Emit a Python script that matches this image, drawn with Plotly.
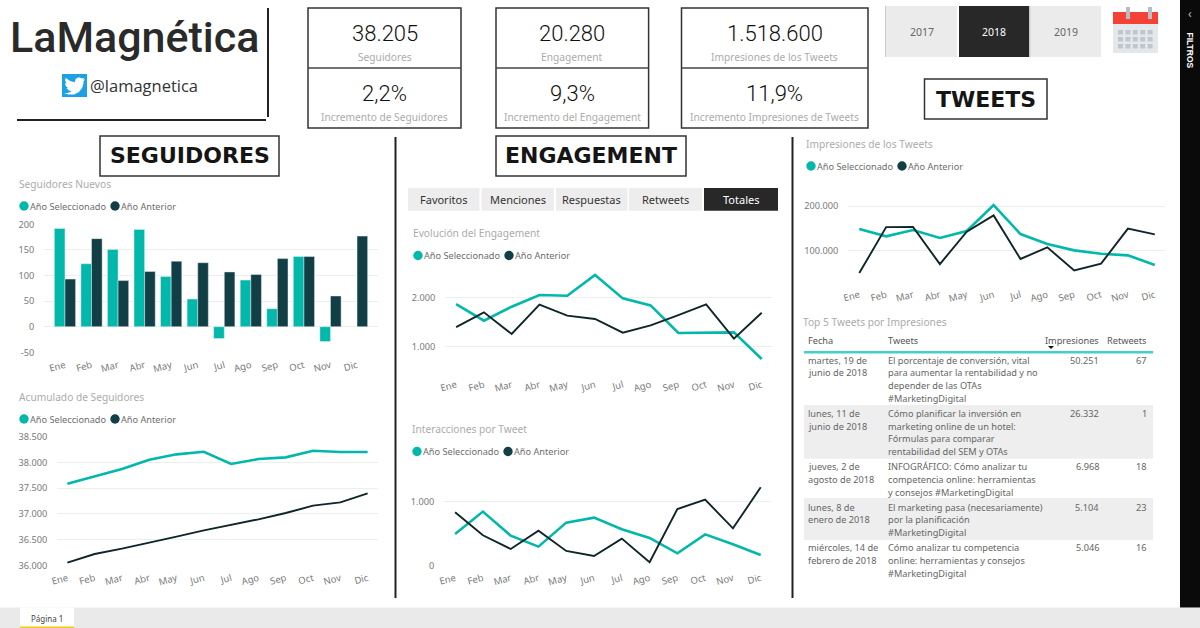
import plotly.graph_objects as go

W, H = 1200, 628
FONT = "Noto Sans"
TEAL = "#01B8AA"
DARK = "#123E45"
LINE_DARK = "#0F2529"
GRID = "#EEEEEE"

months = ["Ene", "Feb", "Mar", "Abr", "May", "Jun", "Jul", "Ago", "Sep", "Oct", "Nov", "Dic"]

nuevos_sel = [192, 123, 151, 190, 98, 54, -23, 91, 35, 137, -29, None]
nuevos_ant = [93, 172, 90, 108, 128, 125, 107, 102, 133, 137, 60, 177]
nuevos_ticks = [-50, 0, 50, 100, 150, 200]
nuevos_ticktext = ["-50", "0", "50", "100", "150", "200"]
acum_sel = [37587, 37723, 37872, 38053, 38157, 38208, 37969, 38066, 38098, 38228, 38202, 38202]
acum_ant = [36052, 36220, 36324, 36434, 36557, 36680, 36784, 36894, 37017, 37159, 37224, 37399]
evol_sel = [1870, 1530, 1816, 2054, 2040, 2463, 1986, 1843, 1279, 1293, 1293, 748]
evol_ant = [1401, 1701, 1259, 1857, 1633, 1565, 1286, 1435, 1646, 1864, 1163, 1694]
inter_sel = [490, 839, 464, 292, 667, 745, 563, 427, 188, 484, 328, 161]
inter_ant = [828, 469, 255, 542, 224, 146, 417, 47, 880, 1026, 578, 1219]
impr_sel = [148500, 132100, 146300, 128400, 144000, 202000, 137300, 114900, 100700, 93300, 89600, 68000]
impr_ant = [49900, 152800, 153000, 70000, 142500, 179000, 81500, 107500, 56000, 71000, 149500, 136600]

kpi_values = ["38.205", "20.280", "1.518.600"]
kpi_labels = ["Seguidores", "Engagement", "Impresiones de los Tweets"]
inc_values = ["2,2%", "9,3%", "11,9%"]
inc_labels = ["Incremento de Seguidores", "Incremento del Engagement", "Incremento Impresiones de Tweets"]
years = ["2017", "2018", "2019"]
tabs = ["Favoritos", "Menciones", "Respuestas", "Retweets", "Totales"]

table_headers = ["Fecha", "Tweets", "Impresiones", "Retweets"]
table_fechas = ["martes, 19 de<br>junio de 2018", "lunes, 11 de<br>junio de 2018", "jueves, 2 de<br>agosto de 2018",
                "lunes, 8 de<br>enero de 2018", "miércoles, 14 de<br>febrero de 2018"]
table_tweets = [
    "El porcentaje de conversión, vital<br>para aumentar la rentabilidad y no<br>depender de las OTAs<br>#MarketingDigital",
    "Cómo planificar la inversión en<br>marketing online de un hotel:<br>Fórmulas para comparar<br>rentabilidad del SEM y OTAs",
    "INFOGRÁFICO: Cómo analizar tu<br>competencia online: herramientas<br>y consejos #MarketingDigital",
    "El marketing pasa (necesariamente)<br>por la planificación<br>#MarketingDigital",
    "Cómo analizar tu competencia<br>online: herramientas y consejos<br>#MarketingDigital",
]
table_impresiones = ["50.251", "26.332", "6.968", "5.104", "5.046"]
table_retweets = ["67", "1", "18", "23", "16"]

shapes, annotations = [], []


def px(x):
    return x / W


def py(y):
    return 1 - y / H


def rect(x0, y0, x1, y1, fill="rgba(0,0,0,0)", line=None, lw=1.5, layer="below"):
    shapes.append(dict(type="rect", xref="paper", yref="paper", x0=px(x0), x1=px(x1), y0=py(y0), y1=py(y1),
                       fillcolor=fill, line=dict(color=line or "rgba(0,0,0,0)", width=lw if line else 0), layer=layer))


def seg(x0, y0, x1, y1, color="#222222", lw=2):
    shapes.append(dict(type="line", xref="paper", yref="paper", x0=px(x0), x1=px(x1), y0=py(y0), y1=py(y1),
                       line=dict(color=color, width=lw), layer="below"))


def circle(cx, cy, r, fill):
    shapes.append(dict(type="circle", xref="paper", yref="paper", x0=px(cx - r), x1=px(cx + r), y0=py(cy + r), y1=py(cy - r),
                       fillcolor=fill, line=dict(width=0), layer="above"))


def poly(points, fill, layer="above"):
    d = "M " + " L ".join(f"{px(x):.5f},{py(y):.5f}" for x, y in points) + " Z"
    shapes.append(dict(type="path", xref="paper", yref="paper", path=d, fillcolor=fill, line=dict(width=0), layer=layer))


def text(x, y, s, size=11, color="#666666", anchor="left", family=FONT, weight=None, angle=0, valign="middle"):
    f = dict(size=size, color=color, family=family)
    if weight:
        f["weight"] = weight
    annotations.append(dict(x=px(x), y=py(y), xref="paper", yref="paper", text=s, showarrow=False, xanchor=anchor,
                            yanchor=valign, font=f, textangle=angle, align=anchor, borderpad=0, borderwidth=0))


def legend(x, y):
    circle(x + 5, y, 4.7, TEAL)
    text(x + 11, y, "Año Seleccionado", 9.2, "#6E6E6E")
    circle(x + 96, y, 4.7, DARK)
    text(x + 102, y, "Año Anterior", 9.2, "#6E6E6E")


fig = go.Figure()


def axes(n, x0, x1, y0, y1, xr, yr, dtick):
    s = "" if n == 1 else str(n)
    fig.update_layout({
        f"xaxis{s}": dict(domain=[px(x0), px(x1)], range=xr, anchor=f"y{s}", type="category", categoryorder="array",
                          categoryarray=months, tickangle=-15, showgrid=False, zeroline=False, showline=False,
                          automargin=False,
                          tickfont=dict(size=9.5, color="#7A7A7A", family=FONT), ticks="outside", ticklen=3,
                          tickcolor="rgba(0,0,0,0)"),
        f"yaxis{s}": dict(domain=[py(y1), py(y0)], range=yr, anchor=f"x{s}", dtick=dtick, tick0=0, tickformat=",d",
                          showgrid=True, gridcolor=GRID, gridwidth=1, zeroline=False, showline=False,
                          automargin=False,
                          tickfont=dict(size=9.2, color="#7A7A7A", family=FONT), ticks="outside", ticklen=7,
                          tickcolor="rgba(0,0,0,0)"),
    })


def lines(n, sel, ant):
    s = "" if n == 1 else str(n)
    fig.add_trace(go.Scatter(x=months, y=sel, mode="lines", name="Año Seleccionado", xaxis=f"x{s}", yaxis=f"y{s}",
                             line=dict(color=TEAL, width=2.6), showlegend=False))
    fig.add_trace(go.Scatter(x=months, y=ant, mode="lines", name="Año Anterior", xaxis=f"x{s}", yaxis=f"y{s}",
                             line=dict(color=LINE_DARK, width=1.9), showlegend=False))


# Seguidores Nuevos
axes(1, 44, 378, 224.3, 352.3, [-0.79, 11.79], [-50, 200], 50)
fig.update_layout(yaxis=dict(tickmode="array", tickvals=nuevos_ticks, ticktext=nuevos_ticktext))
fig.add_trace(go.Bar(x=months, y=nuevos_sel, name="Año Seleccionado", marker_color=TEAL, showlegend=False))
fig.add_trace(go.Bar(x=months, y=nuevos_ant, name="Año Anterior", marker_color=DARK, showlegend=False))
# Acumulado
axes(2, 57, 378, 436.7, 565.3, [-0.38, 11.38], [36000, 38500], 500)
lines(2, acum_sel, acum_ant)
# Evolución
axes(3, 445, 772, 265, 372, [-0.4, 11.37], [484, 2667], 1000)
lines(3, evol_sel, evol_ant)
# Interacciones
axes(4, 444, 771, 480, 565.3, [-0.4, 11.37], [0, 1333], 1000)
lines(4, inter_sel, inter_ant)
# Impresiones
axes(5, 848, 1165, 190, 282, [-0.42, 11.38], [30000, 235800], 100000)
lines(5, impr_sel, impr_ant)

# Logo block
text(134, 37, "LaMagnética", 43, "#2A2A2A", "center", "Roboto", 500)
seg(268, 8, 268, 117)
seg(17, 120, 266, 120)
shapes.append(dict(type="rect", xref="paper", yref="paper", x0=px(62), x1=px(87), y0=py(97), y1=py(74),
                   fillcolor="#1DA1E2", line=dict(width=0), layer="below"))
bird = [(22.5, 5.4), (20.3, 6), (22, 3.9), (19.7, 4.8), (16.4, 3.5), (13.3, 4.9), (12.1, 8.5), (7.6, 7.2), (3.1, 3.9),
        (2.6, 6.9), (4, 10.2), (2.3, 9.7), (3.6, 13), (5.6, 14.6), (3.9, 14.8), (6.5, 17.2), (9.4, 18.2), (5, 19.8),
        (1.5, 19.7), (6, 21.4), (11.6, 21.3), (16.5, 18.7), (19.7, 14.4), (21, 10), (20.9, 8)]
poly([(62.5 + a, 74 + b) for a, b in [(x * 1.0, y * 0.96) for x, y in bird]], "#FFFFFF")
text(90, 86, "@lamagnetica", 16.5, "#333333", family="Open Sans")

# KPI cards
cards = [(308, 461), (496, 648.6), (681.5, 868)]
for (x0, x1), v, l, iv, il in zip(cards, kpi_values, kpi_labels, inc_values, inc_labels):
    rect(x0, 8, x1, 128, line="#333333", lw=1.5)
    seg(x0, 68, x1, 68, "#444444", 1.5)
    c = (x0 + x1) / 2
    text(c, 33, v, 22, "#111111", "center", "Roboto", 300)
    text(c, 57.5, l, 10.2, "#ABABAB", "center")
    text(c, 94, iv, 22, "#111111", "center", "Roboto", 300)
    text(c, 117, il, 10.2, "#ABABAB", "center")

# Year slicer
ybox = [(886, 957), (959, 1029), (1030.5, 1101)]
seg(886, 6, 886, 57, "#999999", 1)
seg(1030, 6, 1030, 57, "#999999", 1)
for (x0, x1), yr in zip(ybox, years):
    sel = yr == "2018"
    rect(x0, 6, x1, 57, fill="#282828" if sel else "#EBEBEB")
    text((x0 + x1) / 2, 32, yr, 10.5, "#FFFFFF" if sel else "#666666", "center")

# Calendar icon
rect(1113, 12, 1158, 53, fill="#E4E8EB")
rect(1113, 12, 1158, 24, fill="#F44336")
rect(1126, 7, 1130, 19, fill="#B7BEC4")
rect(1148, 7, 1152, 19, fill="#B7BEC4")
for row_y in (30, 37, 44):
    for col in range(5):
        rect(1118 + col * 7.4, row_y, 1123 + col * 7.4, row_y + 4.5, fill="#BFC6CC")

# Section headings
for (x0, x1, y0, y1), t in zip([(100, 279, 136, 176), (496, 686, 136, 176), (924.5, 1047, 79, 119)],
                               ["SEGUIDORES", "ENGAGEMENT", "TWEETS"]):
    rect(x0, y0, x1, y1, line="#333333", lw=1.5)
    text((x0 + x1) / 2, (y0 + y1) / 2, t, 22, "#151515", "center", "DejaVu Sans", 700)

# Dividers
seg(395.5, 137, 395.5, 598)
seg(792.5, 137, 792.5, 598)

# Tabs
tab_box = [(408, 479.5), (481.5, 554), (556, 627.5), (629, 702), (704, 778)]
for (x0, x1), t in zip(tab_box, tabs):
    sel = t == "Totales"
    rect(x0, 188, x1, 210.7, fill="#282828" if sel else "#EDEDED")
    text((x0 + x1) / 2, 199.5, t, 11, "#FFFFFF" if sel else "#333333", "center")

# Chart titles and legends
text(19, 184, "Seguidores Nuevos", 10.2, "#ABABAB")
legend(19, 206)
text(19, 397, "Acumulado de Seguidores", 10.2, "#ABABAB")
legend(19, 419)
text(413, 233, "Evolución del Engagement", 10.2, "#ABABAB")
legend(413, 255.5)
text(412, 429, "Interacciones por Tweet", 10.2, "#ABABAB")
legend(412, 451.5)
text(806, 144, "Impresiones de los Tweets", 10.2, "#ABABAB")
legend(806, 166)
text(803, 322, "Top 5 Tweets por Impresiones", 10.2, "#ABABAB")

# Table
row_first = [360, 413.3, 466.7, 507, 547.7]
text(808, 340, table_headers[0], 9.2, "#555555")
text(888, 340, table_headers[1], 9.2, "#555555")
text(1099, 340, table_headers[2], 9.2, "#555555", "right")
text(1147, 340, table_headers[3], 9.2, "#555555", "right")
poly([(1048, 346), (1054, 346), (1051, 349)], "#111111")
rect(804, 405, 1153, 458.7, fill="#EEEEEE")
rect(804, 498, 1153, 540, fill="#EEEEEE")
rect(804, 351, 1153, 353.5, fill="#45CFCB")
for y, f, t, i, r in zip(row_first, table_fechas, table_tweets, table_impresiones, table_retweets):
    for k, part in enumerate(f.split("<br>")):
        text(808, y + k * 12.8, part, 9.2, "#666666")
    for k, part in enumerate(t.split("<br>")):
        text(887.5, y + k * 12.8, part, 9.2, "#666666")
    text(1099, y, i, 9.2, "#666666", "right")
    text(1147, y, r, 9.2, "#666666", "right")

# Power BI chrome
rect(1180, 0, 1200, 607.5, fill="#0A0A0A", layer="above")
rect(0, 607.5, 1200, 628, fill="#EAEAEA")
rect(20, 607.5, 74, 628, fill="#FFFFFF")
rect(20, 626.5, 74, 628, fill="#F2C811")
text(47, 618, "Página 1", 8, "#444444", "center")
text(1189.5, 13, "‹", 12, "#BBBBBB", "center")
text(1189.5, 50, "FILTROS", 8.5, "#FFFFFF", "center", "Liberation Sans", 700, angle=90)

fig.update_layout(width=W, height=H, margin=dict(l=0, r=0, t=0, b=0, pad=0, autoexpand=False), paper_bgcolor="#FFFFFF",
                  plot_bgcolor="rgba(0,0,0,0)", barmode="group", bargap=0.2, bargroupgap=0, separators=",.",
                  showlegend=False, font=dict(family=FONT), shapes=shapes, annotations=annotations)

fig.write_html("out.html", config={"displayModeBar": False},
               post_script="document.body.style.margin='0';document.body.style.overflow='hidden';")
